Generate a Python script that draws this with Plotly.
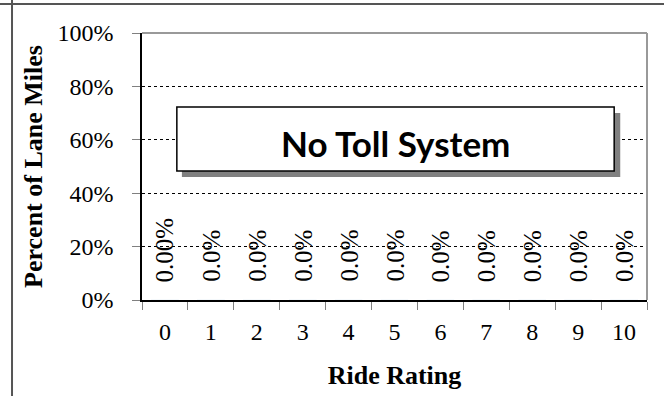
import plotly.graph_objects as go

categories = ["0", "1", "2", "3", "4", "5", "6", "7", "8", "9", "10"]
values = [0, 0, 0, 0, 0, 0, 0, 0, 0, 0, 0]
labels = ["0.00%", "0.0%", "0.0%", "0.0%", "0.0%", "0.0%", "0.0%", "0.0%", "0.0%", "0.0%", "0.0%"]
y_tickvals = [0, 0.2, 0.4, 0.6, 0.8, 1.0]
y_ticktext = ["0%", "20%", "40%", "60%", "80%", "100%"]
box_text = "No Toll System"

SERIF = "Liberation Serif, Times New Roman, serif"

fig = go.Figure()
fig.add_trace(go.Bar(x=categories, y=values, marker=dict(color="#4F81BD"), width=0.6,
                     hoverinfo="x+y", showlegend=False))

annotations = []
for c, v, t in zip(categories, values, labels):
    annotations.append(dict(x=c, y=v, xref="x", yref="y", text=t, showarrow=False,
                            textangle=-90, yanchor="bottom", xanchor="center", yshift=16,
                            font=dict(family=SERIF, size=25, color="black")))

annotations.append(dict(x=0.502, y=0.588, xref="x domain", yref="y domain", text="<b>%s</b>" % box_text,
                        showarrow=False, font=dict(family="Lato, Open Sans, sans-serif", size=35, color="black")))

shapes = [
    # shadow
    dict(type="rect", xref="x domain", yref="y domain", x0=0.079, x1=0.947, y0=0.461, y1=0.700,
         fillcolor="#808080", line=dict(width=0), layer="above"),
    # box
    dict(type="rect", xref="x domain", yref="y domain", x0=0.069, x1=0.935, y0=0.483, y1=0.723,
         fillcolor="white", line=dict(color="black", width=1.5), layer="above"),
    # plot-area top and right gray border
    dict(type="line", xref="x domain", yref="y domain", x0=0, x1=1, y0=1, y1=1,
         line=dict(color="#999999", width=2)),
    dict(type="line", xref="x domain", yref="y domain", x0=1, x1=1, y0=0, y1=1,
         line=dict(color="#999999", width=2)),
    # outer page lines
    dict(type="line", xref="paper", yref="paper", x0=-0.3, x1=1.1, y0=1.109, y1=1.109,
         line=dict(color="#555555", width=2)),
    dict(type="line", xref="paper", yref="paper", x0=-0.2574, x1=-0.2574, y0=-0.36, y1=1.2,
         line=dict(color="#555555", width=2)),
]

fig.update_layout(
    width=664, height=396,
    margin=dict(l=142, r=17, t=33, b=96, autoexpand=False),
    paper_bgcolor="white", plot_bgcolor="white",
    bargap=0.4,
    annotations=annotations,
    shapes=shapes,
    font=dict(family=SERIF, size=24, color="black"),
    xaxis=dict(
        type="category", range=[-0.5, 10.5], automargin=False,
        showline=True, linecolor="black", linewidth=1.5,
        ticks="outside", tickson="boundaries", ticklen=8, tickcolor="#808080",
        ticklabelstandoff=9,
        tickfont=dict(family=SERIF, size=24, color="black"),
        title=dict(text="<b>Ride Rating</b>", font=dict(family=SERIF, size=26, color="black"), standoff=22),
        showgrid=False, zeroline=False,
    ),
    yaxis=dict(
        range=[0, 1], tickvals=y_tickvals, ticktext=y_ticktext, automargin=False,
        showline=True, linecolor="black", linewidth=1.5,
        ticks="outside", ticklen=8, tickcolor="#808080",
        ticklabelstandoff=14,
        tickfont=dict(family=SERIF, size=24, color="black"),
        showgrid=True, gridcolor="black", gridwidth=1, griddash="dot",
        zeroline=False,
        title=dict(text="<b>Percent of Lane Miles</b>", font=dict(family=SERIF, size=26, color="black"), standoff=7),
    ),
)

fig.write_html("out.html", config={"displayModeBar": False},
               post_script="document.body.style.margin='0px';")
